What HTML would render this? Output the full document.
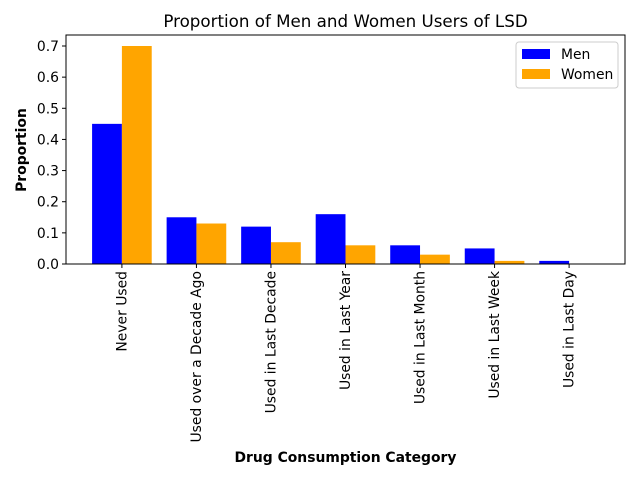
<!DOCTYPE html>
<html><head><meta charset="utf-8"><style>body{margin:0;background:#fff}svg text{font-family:"DejaVu Sans","Liberation Sans",sans-serif}</style></head>
<body>
<svg id="c" width="640" height="480" xmlns="http://www.w3.org/2000/svg"></svg>
<script>
const categories=["Never Used","Used over a Decade Ago","Used in Last Decade","Used in Last Year","Used in Last Month","Used in Last Week","Used in Last Day"];
const men=[0.45,0.15,0.12,0.16,0.06,0.05,0.01];
const women=[0.70,0.13,0.07,0.06,0.03,0.01,0.0];
const yTicks=[0,0.1,0.2,0.3,0.4,0.5,0.6,0.7];
const L=66,R=625,T=35,B=264;
const svg=document.getElementById('c');const NS="http://www.w3.org/2000/svg";
function mk(t,a,txt){const e=document.createElementNS(NS,t);for(const k in a)e.setAttribute(k,a[k]);if(txt!==undefined)e.textContent=txt;svg.appendChild(e);return e;}
const xs=i=>L+(i+0.75)*(R-L)/7.5;
const ys=v=>B-v*(B-46)/0.7;
const bw=0.4*(R-L)/7.5;
categories.forEach((c,i)=>{
 let r=mk('rect',{x:xs(i)-bw,y:ys(men[i]),width:bw,height:B-ys(men[i]),fill:'#0000ff'});
 
 
 r=mk('rect',{x:xs(i),y:ys(women[i]),width:bw,height:B-ys(women[i]),fill:'#ffa500'});
 
 
 mk('line',{x1:xs(i),x2:xs(i),y1:B,y2:B+4,stroke:'#000'});
 const t=mk('text',{x:0,y:0,'font-size':13.9,'text-anchor':'end',transform:`translate(${xs(i)+4.5},${B+7}) rotate(-90)`},c);
 
 
});
yTicks.forEach(v=>{
 mk('line',{x1:L-4,x2:L,y1:ys(v),y2:ys(v),stroke:'#000'});
 const t=mk('text',{x:L-7,y:ys(v)+5,'font-size':13.9,'text-anchor':'end'},v.toFixed(1));
 
 
});
const f=mk('rect',{x:L,y:T,width:R-L,height:B-T,fill:'none',stroke:'#000','stroke-width':1});

let t=mk('text',{x:345.5,y:27,'font-size':16.7,'text-anchor':'middle'},'Proportion of Men and Women Users of LSD');

t=mk('text',{x:345.5,y:462,'font-size':13.9,'font-weight':'bold','text-anchor':'middle'},'Drug Consumption Category');

t=mk('text',{x:0,y:0,'font-size':13.9,'font-weight':'bold','text-anchor':'middle',transform:'translate(26,150) rotate(-90)'},'Proportion');

const lg=mk('rect',{x:516,y:42,width:102,height:46,fill:'#fff',stroke:'#ccc',rx:3});

mk('rect',{x:522,y:49,width:28,height:10,fill:'#0000ff'});
t=mk('text',{x:561,y:59,'font-size':13.9},'Men');
mk('rect',{x:522,y:69,width:28,height:10,fill:'#ffa500'});
t=mk('text',{x:561,y:79,'font-size':13.9},'Women');
</script>
</body></html>
